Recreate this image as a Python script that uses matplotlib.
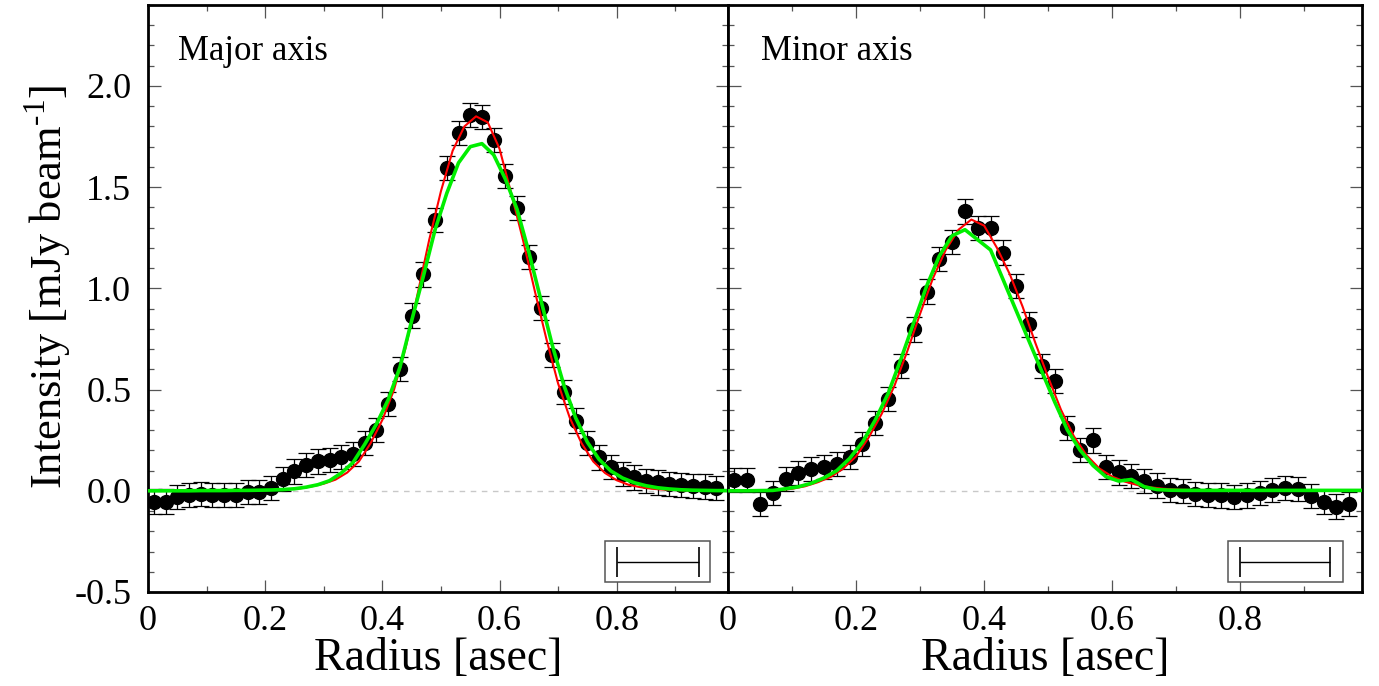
import numpy as np
import matplotlib
matplotlib.use("Agg")
import matplotlib.pyplot as plt
import matplotlib.ticker as ticker
from matplotlib.patches import Rectangle

plt.rcParams["font.family"] = ["Liberation Serif", "DejaVu Serif"]
plt.rcParams["mathtext.fontset"] = "custom"
plt.rcParams["mathtext.rm"] = "Liberation Serif"
plt.rcParams["axes.unicode_minus"] = False

# ── Observed profiles (radius in asec, intensity in mJy/beam) ──────────────
RADIUS = [0.01, 0.03, 0.05, 0.07, 0.09, 0.11, 0.13, 0.15, 0.17, 0.19,
          0.21, 0.23, 0.25, 0.27, 0.29, 0.31, 0.33, 0.35, 0.37, 0.39,
          0.41, 0.43, 0.45, 0.47, 0.49, 0.51, 0.53, 0.55, 0.57, 0.59,
          0.61, 0.63, 0.65, 0.67, 0.69, 0.71, 0.73, 0.75, 0.77, 0.79,
          0.81, 0.83, 0.85, 0.87, 0.89, 0.91, 0.93, 0.95, 0.97]

MAJOR_I = [-0.053, -0.053, -0.031, -0.020, -0.017, -0.020, -0.020, -0.020, -0.007, -0.007,
           0.013, 0.059, 0.096, 0.129, 0.145, 0.153, 0.167, 0.183, 0.236, 0.302,
           0.429, 0.602, 0.866, 1.069, 1.338, 1.594, 1.767, 1.856, 1.845, 1.733,
           1.556, 1.396, 1.155, 0.903, 0.670, 0.489, 0.347, 0.236, 0.165, 0.116,
           0.084, 0.066, 0.050, 0.041, 0.033, 0.030, 0.025, 0.021, 0.013]
MAJOR_ERR = 0.06

MINOR_I = [0.054, 0.054, -0.064, -0.012, 0.059, 0.087, 0.107, 0.117, 0.134, 0.167,
           0.231, 0.335, 0.455, 0.615, 0.797, 0.984, 1.144, 1.230, 1.380, 1.300,
           1.300, 1.177, 1.011, 0.822, 0.615, 0.541, 0.310, 0.203, 0.249, 0.117,
           0.091, 0.074, 0.050, 0.026, 0.005, 0.000, -0.017, -0.020, -0.023, -0.031,
           -0.023, -0.012, 0.005, 0.013, 0.008, -0.025, -0.056, -0.078, -0.066]
MINOR_ERR = 0.06

# ── Model curves (red: smooth fit, green: model image) ─────────────────────
RED_R = [0.00, 0.02, 0.04, 0.06, 0.08, 0.10, 0.12, 0.14, 0.16, 0.18,
         0.20, 0.22, 0.24, 0.26, 0.28, 0.30, 0.32, 0.34, 0.36, 0.38,
         0.40, 0.42, 0.44, 0.46, 0.48, 0.50, 0.52, 0.54, 0.56, 0.58,
         0.60, 0.62, 0.64, 0.66, 0.68, 0.70, 0.72, 0.74, 0.76, 0.78,
         0.80, 0.82, 0.84, 0.86, 0.88, 0.90, 0.92, 0.94, 0.96, 0.98, 0.99]

MAJOR_RED = [0.000, 0.000, 0.000, 0.000, 0.000, 0.001, 0.001, 0.001, 0.001, 0.002,
             0.003, 0.005, 0.008, 0.012, 0.022, 0.035, 0.055, 0.090, 0.145, 0.235,
             0.350, 0.500, 0.710, 0.970, 1.240, 1.480, 1.680, 1.800, 1.850, 1.820,
             1.690, 1.470, 1.240, 0.990, 0.750, 0.530, 0.360, 0.235, 0.145, 0.088,
             0.052, 0.030, 0.018, 0.010, 0.006, 0.004, 0.002, 0.001, 0.001, 0.000, 0.000]

MINOR_RED = [0.000, 0.001, 0.001, 0.002, 0.004, 0.010, 0.022, 0.042, 0.068, 0.110,
             0.170, 0.265, 0.380, 0.520, 0.690, 0.875, 1.050, 1.190, 1.290, 1.340,
             1.310, 1.200, 1.070, 0.910, 0.730, 0.560, 0.400, 0.270, 0.175, 0.110,
             0.070, 0.045, 0.028, 0.017, 0.010, 0.006, 0.004, 0.003, 0.002, 0.002,
             0.001, 0.001, 0.001, 0.001, 0.000, 0.000, 0.000, 0.000, 0.000, 0.000, 0.000]

GREEN_R = [0.00] + RADIUS + [0.99]

MAJOR_GREEN = [0.000,
               0.000, 0.000, 0.000, 0.000, 0.001, 0.001, 0.001, 0.002, 0.002, 0.003,
               0.004, 0.006, 0.010, 0.018, 0.030, 0.050, 0.088, 0.140, 0.230, 0.330,
               0.450, 0.610, 0.840, 1.060, 1.290, 1.470, 1.620, 1.700, 1.715, 1.660,
               1.540, 1.390, 1.180, 0.950, 0.720, 0.520, 0.360, 0.240, 0.155, 0.098,
               0.063, 0.040, 0.025, 0.015, 0.009, 0.005, 0.003, 0.002, 0.001,
               0.001]

MINOR_GREEN = [0.000,
               0.000, 0.000, 0.001, 0.002, 0.010, 0.020, 0.037, 0.064, 0.100, 0.160,
               0.240, 0.350, 0.480, 0.650, 0.830, 1.010, 1.160, 1.260, 1.290, 1.240,
               1.190, 1.040, 0.890, 0.740, 0.590, 0.440, 0.300, 0.200, 0.125, 0.070,
               0.048, 0.056, 0.020, 0.006, 0.003, 0.002, 0.002, 0.002, 0.002, 0.002,
               0.002, 0.002, 0.002, 0.002, 0.002, 0.002, 0.002, 0.002, 0.002,
               0.002]

# beam size indicator (asec)
BEAM_CENTER = 0.87
BEAM_FWHM = 0.14
BEAM_Y = -0.35

PANELS = [
    ("Major axis", MAJOR_I, MAJOR_ERR, MAJOR_RED, MAJOR_GREEN),
    ("Minor axis", MINOR_I, MINOR_ERR, MINOR_RED, MINOR_GREEN),
]

W, H = 1379, 686
fig = plt.figure(figsize=(W / 100, H / 100), dpi=100)
fig.patch.set_facecolor("white")

# panel rectangles in pixels (left, bottom, width, height)
boxes = [(148, 94, 580, 587), (728, 94, 634, 587)]

for i, ((title, pts, err, red, green), (l, b, w, h)) in enumerate(zip(PANELS, boxes)):
    ax = fig.add_axes([l / W, b / H, w / W, h / H])

    ax.axhline(0, color="#c8c8c8", lw=1.0, ls=(0, (4, 4)), zorder=1)

    ax.errorbar(RADIUS, pts, yerr=err, fmt="o", color="black", ms=10,
                ecolor="black", elinewidth=0.9, capsize=5.5, capthick=0.9, zorder=3)
    ax.plot(RED_R, red, color="#ff0000", lw=1.5, zorder=4)
    ax.plot(GREEN_R, green, color="#00ee00", lw=2.6, zorder=5)

    # beam size box
    ax.add_patch(Rectangle((0.78, -0.45), 0.18, 0.20, facecolor="white",
                           edgecolor="#555555", lw=1.1, zorder=6))
    ax.errorbar([BEAM_CENTER], [BEAM_Y], xerr=BEAM_FWHM / 2, fmt="none",
                ecolor="black", elinewidth=1.0, capsize=11, capthick=1.2, zorder=7)

    ax.text(0.052, 0.92, title, transform=ax.transAxes, fontsize=25,
            va="center", ha="left")

    ax.set_xlim(0, 0.99)
    ax.set_ylim(-0.5, 2.4)

    ax.xaxis.set_major_locator(ticker.MultipleLocator(0.2))
    ax.xaxis.set_minor_locator(ticker.MultipleLocator(0.1))
    ax.yaxis.set_major_locator(ticker.MultipleLocator(0.5))
    ax.yaxis.set_minor_locator(ticker.MultipleLocator(0.1))
    ax.xaxis.set_major_formatter(ticker.FuncFormatter(
        lambda v, p: "0" if abs(v) < 1e-9 else f"{v:.1f}"))
    ax.yaxis.set_major_formatter(ticker.FuncFormatter(lambda v, p: f"{v:.1f}"))

    ax.tick_params(which="both", direction="in", top=True, right=True,
                   color="#555555", width=0.9, labelsize=26)
    ax.tick_params(which="major", length=9)
    ax.tick_params(which="minor", length=4.5)
    ax.tick_params(axis="x", pad=9)
    ax.tick_params(axis="y", pad=12)

    for spine in ax.spines.values():
        spine.set_linewidth(2.0)
        spine.set_edgecolor("black")

    ax.set_xlabel("Radius [asec]", fontsize=33, labelpad=0)
    if i == 0:
        ax.set_ylabel(r"Intensity [mJy beam$^{\text{-1}}$]", fontsize=32)
        ax.yaxis.set_label_coords(-0.128, 0.52)
    else:
        ax.tick_params(labelleft=False)

fig.savefig("out.png", dpi=100, facecolor="white")
